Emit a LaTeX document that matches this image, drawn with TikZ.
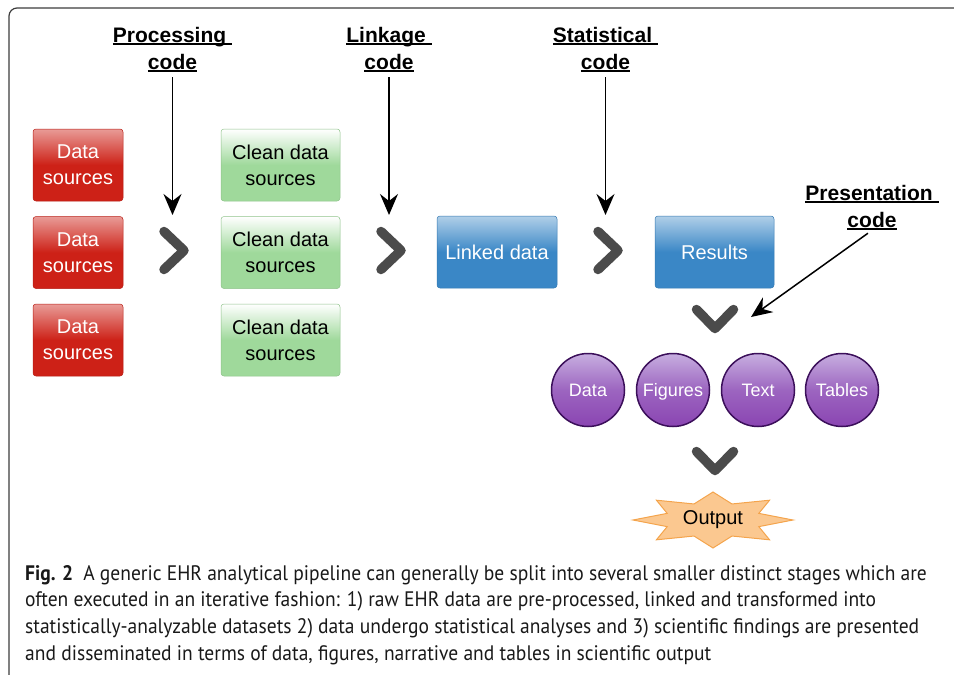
\documentclass[tikz,border=0pt]{standalone}
\usepackage{fontspec}
\setmainfont{Liberation Sans}
\newfontfamily\capfont[FakeStretch=0.93]{PT Sans}
\usetikzlibrary{arrows.meta}
\usetikzlibrary{calc}
\usetikzlibrary{positioning}

\definecolor{srcred}{HTML}{CD2117}
\definecolor{cleangreen}{HTML}{9FD99B}
\definecolor{linkblue}{HTML}{3A87C6}
\definecolor{outpurple}{HTML}{8A45B2}
\definecolor{lightpurple}{HTML}{C7AEE0}
\definecolor{ringpurple}{HTML}{3B0F5A}
\definecolor{chevgray}{HTML}{4B4B4B}
\definecolor{starfill}{HTML}{FBC890}
\definecolor{starline}{HTML}{F4A44C}
\definecolor{framegray}{HTML}{3C3C3C}

% underlined code labels
\newcommand{\codelabel}[1]{\setbox0\hbox{#1}\rlap{\rule[-3pt]{\wd0}{1.8pt}}\box0}

\tikzset{
	stagebox/.style={rectangle, rounded corners=3pt, minimum height=72pt, align=center, inner sep=2pt,
		font=\fontsize{20}{26}\selectfont, shading angle=45},
	srcbox/.style={stagebox, minimum width=90pt, text=white, draw=srcred!90!black, line width=0.5pt,
		top color=srcred!45!white, bottom color=srcred, middle color=srcred},
	cleanbox/.style={stagebox, minimum width=119pt, text=black, draw=cleangreen!90!black, line width=0.5pt,
		top color=white, bottom color=cleangreen, middle color=cleangreen},
	linkbox/.style={stagebox, minimum width=120pt, text=white, draw=linkblue!90!black, line width=0.5pt,
		top color=linkblue!40!white, bottom color=linkblue, middle color=linkblue},
	outcircle/.style={circle, minimum size=73pt, inner sep=0pt, draw=ringpurple, line width=1.5pt,
		text=white, font=\fontsize{18}{22}\selectfont, text height=13pt, text depth=0pt, shading angle=60,
		top color=lightpurple, bottom color=outpurple, middle color=outpurple!70!lightpurple},
	codelab/.style={anchor=north, align=center, inner sep=0pt, font=\fontsize{21}{27}\selectfont\bfseries},
	codearrow/.style={-{Stealth[length=21pt, width=18pt, inset=7pt]}, line width=1.5pt, shorten <=5pt},
	chevron/.style={chevgray, line width=9.5pt, line cap=round, line join=round},
	outstar/.style={fill=starfill, draw=starline, line width=1pt},
}

\begin{document}
\begin{tikzpicture}[x=1pt, y=-1pt]
	\useasboundingbox (0,0) rectangle (954,675);
	\draw[framegray, line width=1.2pt, rounded corners=8pt] (9,700) -- (9,8) -- (980,8);

	% stage boxes
	\node[srcbox] (src1) at (78,165) {Data\\sources};
	\node[srcbox, below=15pt of src1] (src2) {Data\\sources};
	\node[srcbox, below=15pt of src2] (src3) {Data\\sources};
	\node[cleanbox] (cln1) at (280.5,165) {Clean data\\sources};
	\node[cleanbox, below=15pt of cln1] (cln2) {Clean data\\sources};
	\node[cleanbox, below=15pt of cln2] (cln3) {Clean data\\sources};
	\node[linkbox] (linked) at (497,252) {Linked data};
	\node[linkbox, minimum width=119pt] (results) at (714.5,252) {Results};

	% outputs
	\node[outcircle] (oData) at (588,390) {Data};
	\node[outcircle] (oFig) at (673,390) {Figures};
	\node[outcircle] (oText) at (758,390) {Text};
	\node[outcircle] (oTab) at (842,390) {Tables};

	\coordinate (outc) at (713,520);
	\draw[outstar, shift={(outc)}] plot[samples at={0,...,15}]
		({(1-0.38*mod(\x,2))*80*cos(\x*22.5)}, {(1-0.38*mod(\x,2))*28*sin(\x*22.5)}) -- cycle;
	\node[font=\fontsize{20}{24}\selectfont] (output) at (outc) {Output};

	% chevrons
	\coordinate (chv1) at (174,250.5);
	\coordinate (chv2) at (391,250.5);
	\coordinate (chv3) at (608,250.5);
	\foreach \c in {chv1,chv2,chv3}
		\draw[chevron] ($(\c)+(-10,-19)$) -- ($(\c)+(10,0)$) -- ($(\c)+(-10,19)$);
	\coordinate (chv4) at (715,319);
	\coordinate (chv5) at (715,461);
	\foreach \c in {chv4,chv5}
		\draw[chevron] ($(\c)+(-18.5,-9.5)$) -- ($(\c)+(0,9.5)$) -- ($(\c)+(18.5,-9.5)$);

	% code labels
	\node[codelab] (procL) at (172.5,26.7) {\codelabel{Processing\ }\\\codelabel{code}};
	\node[codelab] (linkL) at (389,26.7) {\codelabel{Linkage\ }\\\codelabel{code}};
	\node[codelab] (statL) at (605.5,26.7) {\codelabel{Statistical\ }\\\codelabel{code}};
	\node[codelab] (presL) at (872,184.7) {\codelabel{Presentation\ }\\\codelabel{code}};

	\coordinate (tip1) at (172.5,215);
	\coordinate (tip2) at (389,215);
	\coordinate (tip3) at (605.5,215);
	\coordinate (tip4) at (751,317);
	\draw[codearrow] (procL) -- (tip1);
	\draw[codearrow] (linkL) -- (tip2);
	\draw[codearrow] (statL) -- (tip3);
	\draw[codearrow] (presL.south) -- (tip4);

	% caption
	\node[anchor=north west, align=left, inner sep=0pt, text=black!90,
		font=\capfont\fontsize{21}{26.7}\selectfont] (caption) at (25,565)
		{\textbf{Fig. 2}\hspace{10pt}A generic EHR analytical pipeline can generally be split into several smaller distinct stages which are\\
		often executed in an iterative fashion: 1) raw EHR data are pre-processed, linked and transformed into\\
		statistically-analyzable datasets 2) data undergo statistical analyses and 3) scientific findings are presented\\
		and disseminated in terms of data, figures, narrative and tables in scientific output};
\end{tikzpicture}
\end{document}
